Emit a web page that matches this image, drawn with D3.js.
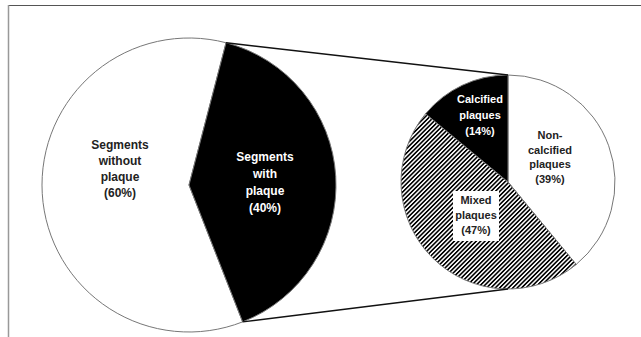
<!DOCTYPE html>
<html><head><meta charset="utf-8">
<script src="https://cdn.jsdelivr.net/npm/d3@7"></script>
<style>body{margin:0;background:#fff}svg{display:block}text{font-family:"Liberation Sans",Arial,sans-serif;font-weight:bold}</style>
</head><body><svg id="c" width="641" height="337"></svg>
<script>
// Data
const mainCategories = ["Segments without plaque", "Segments with plaque"];
const mainValues = [60, 40];
const mainLabels = [["Segments","without","plaque","(60%)"],["Segments","with","plaque","(40%)"]];
const subCategories = ["Non-calcified plaques", "Mixed plaques", "Calcified plaques"];
const subValues = [39, 47, 14];
const subLabels = [["Non-","calcified","plaques","(39%)"],["Mixed","plaques","(47%)"],["Calcified","plaques","(14%)"]];

const svg = d3.select("#c");
const deg = Math.PI/180;

// hatch pattern
const defs = svg.append("defs");
const pat = defs.append("pattern").attr("id","hatch").attr("patternUnits","userSpaceOnUse")
  .attr("width",3.1).attr("height",10).attr("patternTransform","rotate(45)");
pat.append("rect").attr("width",3.1).attr("height",10).attr("fill","#fff");
pat.append("rect").attr("width",1.6).attr("height",10).attr("fill","#000");

// frame
svg.append("line").attr("x1",8).attr("x2",641).attr("y1",5.5).attr("y2",5.5).attr("stroke","#555").attr("stroke-width",1.2);
svg.append("line").attr("x1",8.5).attr("x2",8.5).attr("y1",5).attr("y2",337).attr("stroke","#999").attr("stroke-width",1.5);

// left pie
const c1 = {x:189, y:185}, r1 = 147;
const pie1 = d3.pie().sort(null).startAngle(158.6*deg).endAngle(158.6*deg + 2*Math.PI);
const arcs1 = pie1(mainValues);
const arc1 = d3.arc().innerRadius(0).outerRadius(r1);
const g1 = svg.append("g").attr("transform",`translate(${c1.x},${c1.y})`);
g1.selectAll("path").data(arcs1).join("path").attr("d",arc1)
  .attr("fill",(d,i)=>i===0?"#fff":"#000").attr("stroke","#777").attr("stroke-width",1);

// right pie
const c2 = {x:508, y:182}, r2 = 107;
const pie2 = d3.pie().sort(null).startAngle(0).endAngle(2*Math.PI);
const arcs2 = pie2(subValues);
const arc2 = d3.arc().innerRadius(0).outerRadius(r2);
const g2 = svg.append("g").attr("transform",`translate(${c2.x},${c2.y})`);
const fills2 = ["#fff","url(#hatch)","#000"];
g2.selectAll("path").data(arcs2).join("path").attr("d",arc2)
  .attr("fill",(d,i)=>fills2[i]).attr("stroke","#777").attr("stroke-width",1);

// connector lines
const pt = (c,r,a)=>[c.x + r*Math.sin(a), c.y - r*Math.cos(a)];
const blk = arcs1[1];
const pA = pt(c1,r1,blk.startAngle), pB = pt(c1,r1,blk.endAngle);
const qA = pt(c2,r2,0), qB = pt(c2,r2,Math.PI);
svg.append("line").attr("x1",pA[0]).attr("y1",pA[1]).attr("x2",qA[0]).attr("y2",qA[1]).attr("stroke","#111").attr("stroke-width",1.4);
svg.append("line").attr("x1",pB[0]).attr("y1",pB[1]).attr("x2",qB[0]).attr("y2",qB[1]).attr("stroke","#111").attr("stroke-width",1.4);

// white box behind mixed label
svg.append("rect").attr("x",453).attr("y",191).attr("width",46).attr("height",50).attr("fill","#fff");

function label(lines, x, y0, dy, size, color){
  const t = svg.append("text").attr("text-anchor","middle").attr("font-size",size).attr("fill",color);
  lines.forEach((s,i)=>t.append("tspan").attr("x",x).attr("y",y0+i*dy).attr("dy","0.35em").text(s));
}
label(mainLabels[0],120,145,16,12,"#222");
label(mainLabels[1],265,157,17,12,"#fff");
label(subLabels[0],550,135,14.7,11,"#222");
label(subLabels[1],476,200,15,11,"#222");
label(subLabels[2],480,99,16,11,"#fff");
</script></body></html>
